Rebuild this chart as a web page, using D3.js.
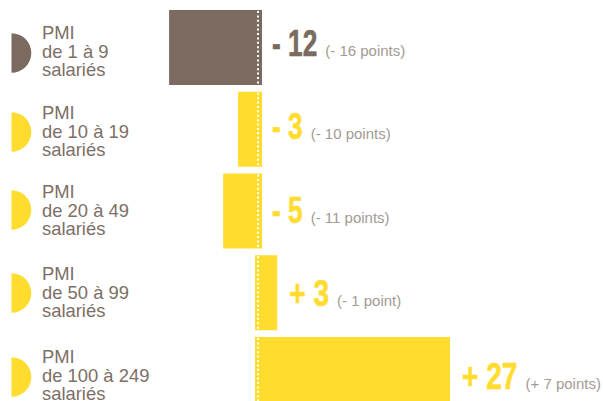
<!DOCTYPE html>
<html>
<head>
<meta charset="utf-8">
<script src="https://cdn.jsdelivr.net/npm/d3@7"></script>
<style>
	html, body { margin: 0; padding: 0; background: #fff; overflow: hidden; }
</style>
</head>
<body>
<div id="chart"></div>
<script>
var categories = ['de 1 à 9', 'de 10 à 19', 'de 20 à 49', 'de 50 à 99', 'de 100 à 249'];
var labels = ['- 12', '- 3', '- 5', '+ 3', '+ 27'];
var notes = ['(- 16 points)', '(- 10 points)', '(- 11 points)', '(- 1 point)', '(+ 7 points)'];
// bar lengths as measured on the picture, not quite the printed numbers
var lengths = [-12.5, -2.8, -4.9, 2.7, 27];
var colors = ['#7a6a60', '#ffdc2e', '#ffdc2e', '#ffdc2e', '#ffdc2e'];

var width = 603;
var height = 401;

// the left column is not quite regular in the original
var textNudge = [0, -1, -3, -2, 0];
var arcNudge = [0, -2, -5, -3, 0];

var x = d3.scaleLinear().domain([0, 27]).range([258, 450]);
var y = d3.scaleBand().domain(categories).range([10, 412]).paddingInner(0.0826);

var svg = d3.select('#chart')
	.append('svg')
	.attr('width', width)
	.attr('height', height)
	.style('display', 'block');

var arc = d3.arc()
	.innerRadius(0)
	.outerRadius(19.8)
	.startAngle(0)
	.endAngle(Math.PI);

categories.forEach(function (d, i) {
	var top = y(d);
	var v = lengths[i];
	// bars run a little past the zero line on their inner side
	var x0 = v < 0 ? x(v) : x(0) - 3;
	var x1 = v < 0 ? x(0) + 4 : x(v);

	var g = svg.append('g');

	g.append('path')
		.attr('d', arc)
		.attr('transform', 'translate(11.5,' + (53 + i * 81 + arcNudge[i]) + ')')
		.style('fill', colors[i]);

	var text = g.append('text')
		.style('font-family', '"Liberation Sans", sans-serif')
		.style('font-size', '18.4px')
		.style('fill', '#7d6f66');
	['PMI', d, 'salariés'].forEach(function (line, k) {
		text.append('tspan')
			.attr('x', 42)
			.attr('y', 39 + i * 81 + textNudge[i] + k * 18.5)
			.text(line);
	});

	g.append('rect')
		.attr('x', x0)
		.attr('y', top)
		.attr('width', x1 - x0)
		.attr('height', y.bandwidth())
		.style('fill', colors[i]);

	g.append('line')
		.attr('x1', x(0))
		.attr('x2', x(0))
		.attr('y1', top + 1)
		.attr('y2', top + y.bandwidth())
		.style('stroke', '#fff')
		.style('stroke-width', 2)
		.style('stroke-dasharray', '2,2.4');

	// the plus labels sit a little wider than the minus ones
	var squeeze = v < 0 ? 0.71 : 0.76;
	var labelX = v < 0 ? x(0) + 14 : x(v) + 12;
	var baseline = 56 + i * 83.25;
	var big = g.append('text')
		.attr('transform', 'translate(' + labelX + ',' + baseline + ') scale(' + squeeze + ',1)')
		.style('font-family', '"Liberation Sans Narrow", sans-serif')
		.style('font-weight', 'bold')
		.style('font-size', '37px')
		.style('fill', colors[i])
		.style('stroke', colors[i])
		.style('stroke-width', 0.6)
		.text(labels[i]);

	g.append('text')
		.attr('x', labelX + big.node().getComputedTextLength() * squeeze + 8)
		.attr('y', baseline)
		.style('font-family', '"Liberation Sans", sans-serif')
		.style('font-size', '15px')
		.style('fill', '#a39a94')
		.text(notes[i]);
});
</script>
</body>
</html>
